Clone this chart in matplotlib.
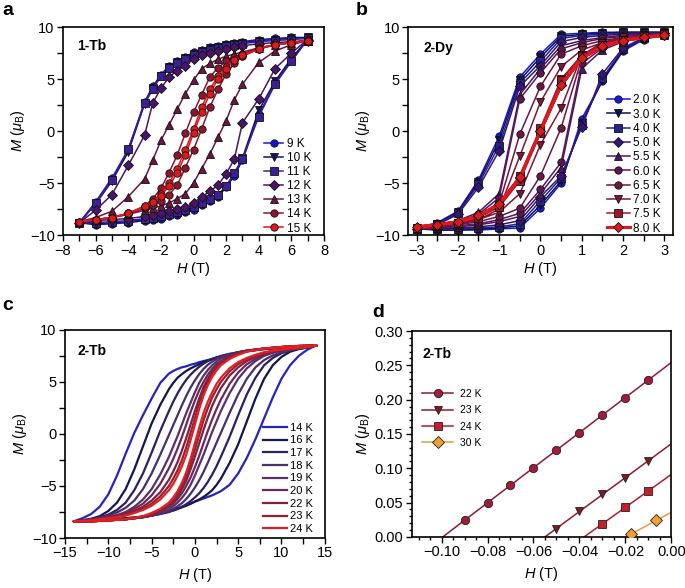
import matplotlib
matplotlib.use('Agg')
import matplotlib.pyplot as plt
import numpy as np
from matplotlib.ticker import MultipleLocator, FuncFormatter

plt.rcParams['font.family'] = ['Liberation Sans', 'DejaVu Sans']
plt.rcParams['mathtext.fontset'] = 'custom'
plt.rcParams['mathtext.rm'] = 'Liberation Sans'
plt.rcParams['mathtext.it'] = 'Liberation Sans:italic'
plt.rcParams['mathtext.bf'] = 'Liberation Sans:bold'

# ---------------- Panel a : 1-Tb ----------------
a_labels = ['9 K', '10 K', '11 K', '12 K', '13 K', '14 K', '15 K']
a_markers = ['o', 'v', 's', 'D', '^', 'o', 'o']
a_colors = ['#1515d6', '#14145e', '#3a1f96', '#4a1468', '#6b1545', '#8c1530', '#e0181c']
Ha_down = [7, 6, 5, 4, 3, 2.5, 2, 1.5, 1, 0.5, 0, -0.5, -1, -1.5, -2, -2.5, -3, -4, -5, -6, -7]
Ha_up = [-7, -6, -5, -4, -3, -2.5, -2, -1.5, -1, -0.5, 0, 0.5, 1, 1.5, 2, 2.5, 3, 4, 5, 6, 7]
a9_down = [9.0, 9.0, 8.9, 8.8, 8.6, 8.5, 8.4, 8.2, 8.1, 7.8, 7.6, 7.1, 6.7, 6.3, 5.4, 4.3, 2.8, -1.8, -4.5, -6.8, -8.8]
a9_up = [-9.0, -9.0, -8.9, -8.8, -8.6, -8.5, -8.4, -8.2, -8.1, -7.8, -7.6, -7.1, -6.7, -6.3, -5.4, -4.3, -2.8, 1.6, 4.6, 6.8, 8.8]
a10_down = [9.0, 8.9, 8.8, 8.7, 8.5, 8.4, 8.3, 8.1, 8.0, 7.7, 7.4, 7.0, 6.6, 6.2, 5.3, 4.1, 2.6, -2.0, -4.8, -7.0, -8.8]
a10_up = [-9.0, -8.9, -8.8, -8.7, -8.5, -8.4, -8.3, -8.1, -8.0, -7.7, -7.4, -7.0, -6.6, -6.2, -5.3, -4.1, -2.6, 2.0, 4.8, 7.0, 8.8]
a11_down = [8.9, 8.8, 8.7, 8.6, 8.4, 8.3, 8.2, 8.0, 7.8, 7.6, 7.3, 6.9, 6.5, 6.1, 5.3, 4.0, 2.7, -1.7, -4.7, -6.9, -8.8]
a11_up = [-8.9, -8.8, -8.7, -8.6, -8.4, -8.3, -8.2, -8.0, -7.8, -7.6, -7.3, -6.9, -6.5, -6.1, -5.3, -4.0, -2.7, 1.4, 4.5, 6.7, 8.8]
a12_down = [8.7, 8.6, 8.5, 8.4, 8.2, 8.1, 7.9, 7.7, 7.5, 7.3, 6.9, 6.3, 5.8, 5.2, 4.1, 2.7, -0.4, -3.3, -6.1, -7.6, -8.8]
a12_up = [-8.7, -8.6, -8.5, -8.4, -8.2, -8.1, -7.9, -7.7, -7.5, -7.3, -6.9, -6.3, -5.8, -5.2, -4.1, -2.7, 0.8, 3.1, 6.0, 7.5, 8.8]
a13_down = [8.7, 8.5, 8.3, 8.0, 7.6, 7.4, 7.2, 6.9, 6.5, 6.0, 4.9, 3.6, 2.1, 0.6, -0.9, -2.8, -4.6, -6.3, -7.7, -8.3, -8.7]
a13_up = [-8.7, -8.5, -8.3, -8.0, -7.6, -7.4, -7.2, -6.9, -6.5, -6.0, -5.0, -3.6, -2.2, -0.6, 1.0, 3.0, 4.5, 6.6, 7.7, 8.3, 8.7]
a14_down = [8.7, 8.5, 8.3, 8.0, 7.4, 7.1, 6.7, 6.1, 5.2, 3.5, 1.8, -0.2, -2.3, -4.0, -5.5, -6.5, -7.2, -7.9, -8.3, -8.5, -8.7]
a14_up = [-8.7, -8.5, -8.3, -8.0, -7.4, -7.1, -6.7, -6.1, -5.2, -3.5, -1.8, 0.2, 2.3, 4.0, 5.5, 6.5, 7.2, 7.9, 8.3, 8.5, 8.7]
a15_down = [8.7, 8.5, 8.3, 7.9, 7.2, 6.8, 6.2, 5.3, 4.0, 2.3, 0.2, -1.8, -3.6, -5.0, -6.0, -6.8, -7.3, -7.9, -8.3, -8.5, -8.7]
a15_up = [-8.7, -8.5, -8.3, -7.9, -7.2, -6.8, -6.2, -5.3, -4.0, -2.3, -0.2, 1.8, 3.6, 5.0, 6.0, 6.8, 7.3, 7.9, 8.3, 8.5, 8.7]
a_down = [a9_down, a10_down, a11_down, a12_down, a13_down, a14_down, a15_down]
a_up = [a9_up, a10_up, a11_up, a12_up, a13_up, a14_up, a15_up]

# ---------------- Panel b : 2-Dy ----------------
b_labels = ['2.0 K', '3.0 K', '4.0 K', '5.0 K', '5.5 K', '6.0 K', '6.5 K', '7.0 K', '7.5 K', '8.0 K']
b_markers = ['o', 'v', 's', 'D', '^', 'o', 'o', 'v', 's', 'D']
b_colors = ['#1717d9', '#0f0f55', '#25238f', '#35157a', '#4a1565', '#5d1555', '#6e1547', '#80153a', '#a0152c', '#e0181c']
Hb_down = [3, 2.5, 2, 1.5, 1, 0.5, 0, -0.5, -1, -1.5, -2, -2.5, -3]
Hb_up = [-3, -2.5, -2, -1.5, -1, -0.5, 0, 0.5, 1, 1.5, 2, 2.5, 3]
b20_down = [9.5, 9.5, 9.5, 9.5, 9.4, 9.3, 7.4, 5.2, -0.5, -4.7, -7.7, -8.8, -9.3]
b20_up = [-9.5, -9.5, -9.5, -9.5, -9.4, -9.3, -7.4, -5.0, 1.2, 4.8, 7.7, 8.8, 9.3]
b30_down = [9.5, 9.5, 9.5, 9.4, 9.3, 9.1, 7.1, 4.9, -0.9, -4.9, -7.8, -8.9, -9.4]
b30_up = [-9.5, -9.5, -9.5, -9.4, -9.3, -9.1, -7.1, -4.8, 0.8, 4.9, 7.8, 8.9, 9.4]
b40_down = [9.4, 9.4, 9.4, 9.3, 9.2, 8.9, 6.7, 4.6, -1.4, -5.1, -7.9, -8.9, -9.4]
b40_up = [-9.4, -9.4, -9.4, -9.3, -9.2, -8.9, -6.7, -4.5, 0.6, 5.1, 7.9, 8.9, 9.4]
b50_down = [9.4, 9.4, 9.3, 9.2, 9.0, 8.6, 6.3, 4.3, -1.9, -5.4, -8.0, -9.0, -9.4]
b50_up = [-9.4, -9.4, -9.3, -9.2, -9.0, -8.6, -6.3, -4.3, 0.4, 5.5, 8.0, 9.0, 9.4]
b55_down = [9.4, 9.3, 9.2, 9.0, 8.7, 8.2, 6.0, 3.5, -6.0, -7.8, -8.6, -9.1, -9.4]
b55_up = [-9.4, -9.3, -9.2, -9.0, -8.7, -8.2, -6.0, -3.5, 6.0, 7.8, 8.6, 9.1, 9.4]
b60_down = [9.3, 9.2, 9.1, 8.9, 8.5, 7.9, 5.6, 3.1, -6.4, -8.0, -8.8, -9.2, -9.4]
b60_up = [-9.3, -9.2, -9.1, -8.9, -8.5, -7.9, -5.6, -3.0, 6.5, 8.0, 8.8, 9.2, 9.4]
b65_down = [9.3, 9.2, 9.0, 8.7, 8.2, 7.4, 4.3, -0.3, -7.0, -8.3, -8.9, -9.2, -9.4]
b65_up = [-9.3, -9.2, -9.0, -8.7, -8.2, -7.4, -4.3, 0.3, 7.0, 8.3, 8.9, 9.2, 9.4]
b70_down = [9.3, 9.1, 8.9, 8.5, 7.8, 6.2, 2.8, -2.4, -7.5, -8.5, -9.0, -9.2, -9.3]
b70_up = [-9.3, -9.1, -8.9, -8.5, -7.8, -6.0, -1.3, 2.2, 7.3, 8.5, 9.0, 9.2, 9.3]
b75_down = [9.2, 9.0, 8.8, 8.3, 7.3, 5.0, 0.3, -4.3, -7.1, -8.3, -8.8, -9.1, -9.3]
b75_up = [-9.2, -9.0, -8.8, -8.3, -7.3, -4.8, -0.2, 4.9, 7.2, 8.3, 8.8, 9.1, 9.3]
b80_down = [9.2, 9.0, 8.7, 8.1, 7.0, 4.4, 0.0, -4.5, -7.0, -8.2, -8.7, -9.0, -9.2]
b80_up = [-9.2, -9.0, -8.7, -8.1, -7.0, -4.4, 0.0, 4.4, 7.0, 8.2, 8.7, 9.0, 9.2]
b_down = [b20_down, b30_down, b40_down, b50_down, b55_down, b60_down, b65_down, b70_down, b75_down, b80_down]
b_up = [b20_up, b30_up, b40_up, b50_up, b55_up, b60_up, b65_up, b70_up, b75_up, b80_up]

# ---------------- Panel c : 2-Tb loops ----------------
c_labels = ['14 K', '16 K', '17 K', '18 K', '19 K', '20 K', '22 K', '23 K', '24 K']
c_colors = ['#2424c0', '#151550', '#2c2060', '#46306e', '#5a306c', '#6a2a58', '#7e2040', '#952035', '#e41e1e']
Hc_down = [14, 12, 10, 8, 6, 5, 4, 3, 2.5, 2, 1.5, 1, 0.5, 0, -0.5, -1, -1.5, -2, -2.5, -3,
           -4, -5, -6, -7, -8, -9, -10, -11, -12, -13, -14]
Hc_up = [-14, -12, -10, -8, -6, -5, -4, -3, -2.5, -2, -1.5, -1, -0.5, 0, 0.5, 1, 1.5, 2, 2.5, 3,
         4, 5, 6, 7, 8, 9, 10, 11, 12, 13, 14]
c14_down = [8.5, 8.4, 8.3, 8.15, 7.95, 7.8, 7.6, 7.4, 7.3, 7.2, 7.1, 7.0, 6.9, 6.75, 6.65, 6.5, 6.4, 6.25, 6.05, 5.8,
            4.9, 3.4, 1.8, 0.1, -1.9, -4.0, -5.8, -7.0, -7.7, -8.1, -8.4]
c14_up = [-8.4, -8.35, -8.25, -8.1, -7.95, -7.8, -7.6, -7.4, -7.3, -7.15, -7.0, -6.85, -6.7, -6.5, -6.35, -6.2, -6.05, -5.9, -5.7, -5.5,
          -4.9, -3.8, -2.3, -0.5, 1.5, 3.5, 5.3, 6.6, 7.5, 8.1, 8.5]
c16_down = [8.5, 8.4, 8.3, 8.15, 7.95, 7.8, 7.65, 7.45, 7.35, 7.2, 7.05, 6.9, 6.7, 6.5, 6.3, 6.05, 5.75, 5.4, 4.9, 4.3,
            2.8, 1.0, -1.2, -3.4, -5.3, -6.6, -7.4, -7.9, -8.15, -8.3, -8.4]
c16_up = [-8.4, -8.35, -8.25, -8.1, -7.95, -7.8, -7.65, -7.45, -7.35, -7.2, -7.05, -6.9, -6.7, -6.5, -6.3, -6.05, -5.75, -5.4, -4.9, -4.3,
          -2.8, -1.0, 1.2, 3.4, 5.3, 6.6, 7.4, 7.9, 8.15, 8.3, 8.5]
c17_down = [8.5, 8.4, 8.3, 8.2, 8.0, 7.85, 7.7, 7.5, 7.35, 7.2, 7.0, 6.75, 6.45, 6.1, 5.7, 5.2, 4.6, 3.9, 3.1, 2.2,
            0.3, -1.8, -3.8, -5.4, -6.6, -7.3, -7.75, -8.0, -8.2, -8.3, -8.4]
c17_up = [-8.4, -8.35, -8.3, -8.2, -8.0, -7.85, -7.7, -7.5, -7.35, -7.2, -7.0, -6.75, -6.45, -6.1, -5.7, -5.2, -4.6, -3.9, -3.1, -2.2,
          -0.3, 1.8, 3.8, 5.4, 6.6, 7.3, 7.75, 8.0, 8.2, 8.3, 8.5]
c18_down = [8.5, 8.45, 8.35, 8.2, 8.0, 7.85, 7.65, 7.4, 7.2, 6.95, 6.65, 6.25, 5.75, 5.15, 4.45, 3.65, 2.75, 1.8, 0.85, -0.1,
            -2.0, -3.8, -5.3, -6.4, -7.1, -7.55, -7.85, -8.05, -8.2, -8.3, -8.4]
c18_up = [-8.4, -8.4, -8.3, -8.2, -8.0, -7.85, -7.65, -7.4, -7.2, -6.95, -6.65, -6.25, -5.75, -5.15, -4.45, -3.65, -2.75, -1.8, -0.85, 0.1,
          2.0, 3.8, 5.3, 6.4, 7.1, 7.55, 7.85, 8.05, 8.2, 8.3, 8.5]
c19_down = [8.5, 8.45, 8.35, 8.2, 8.0, 7.85, 7.6, 7.25, 6.95, 6.6, 6.15, 5.6, 4.9, 4.0, 3.0, 2.0, 0.9, -0.2, -1.2, -2.2,
            -3.9, -5.3, -6.3, -7.0, -7.5, -7.8, -8.0, -8.15, -8.25, -8.35, -8.4]
c19_up = [-8.4, -8.4, -8.3, -8.2, -8.0, -7.85, -7.6, -7.25, -6.95, -6.6, -6.15, -5.6, -4.9, -4.0, -3.0, -2.0, -0.9, 0.2, 1.2, 2.2,
          3.9, 5.3, 6.3, 7.0, 7.5, 7.8, 8.0, 8.15, 8.25, 8.35, 8.5]
c20_down = [8.5, 8.45, 8.35, 8.2, 8.0, 7.8, 7.5, 7.0, 6.7, 6.25, 5.7, 5.0, 4.2, 3.2, 2.1, 0.9, -0.3, -1.4, -2.4, -3.3,
            -4.8, -5.9, -6.7, -7.2, -7.6, -7.85, -8.0, -8.15, -8.25, -8.35, -8.4]
c20_up = [-8.4, -8.4, -8.3, -8.2, -8.0, -7.8, -7.5, -7.0, -6.7, -6.25, -5.7, -5.0, -4.2, -3.2, -2.1, -0.9, 0.3, 1.4, 2.4, 3.3,
          4.8, 5.9, 6.7, 7.2, 7.6, 7.85, 8.0, 8.15, 8.25, 8.35, 8.5]
c22_down = [8.5, 8.45, 8.35, 8.2, 7.95, 7.75, 7.4, 6.9, 6.5, 6.0, 5.3, 4.5, 3.4, 2.2, 0.9, -0.4, -1.6, -2.7, -3.6, -4.4,
            -5.6, -6.4, -7.0, -7.4, -7.7, -7.9, -8.05, -8.15, -8.25, -8.35, -8.4]
c22_up = [-8.4, -8.4, -8.3, -8.2, -7.95, -7.75, -7.4, -6.9, -6.5, -6.0, -5.3, -4.5, -3.4, -2.2, -0.9, 0.4, 1.6, 2.7, 3.6, 4.4,
          5.6, 6.4, 7.0, 7.4, 7.7, 7.9, 8.05, 8.15, 8.25, 8.35, 8.5]
c23_down = [8.5, 8.45, 8.35, 8.2, 7.95, 7.7, 7.3, 6.8, 6.4, 5.8, 5.0, 4.1, 2.9, 1.5, 0.1, -1.3, -2.5, -3.5, -4.3, -5.0,
            -6.0, -6.7, -7.2, -7.5, -7.8, -7.95, -8.1, -8.2, -8.3, -8.35, -8.4]
c23_up = [-8.4, -8.4, -8.3, -8.2, -7.95, -7.7, -7.3, -6.8, -6.4, -5.8, -5.0, -4.1, -2.9, -1.5, -0.1, 1.3, 2.5, 3.5, 4.3, 5.0,
          6.0, 6.7, 7.2, 7.5, 7.8, 7.95, 8.1, 8.2, 8.3, 8.35, 8.5]
c24_down = [8.5, 8.45, 8.35, 8.2, 7.9, 7.6, 7.2, 6.6, 6.1, 5.5, 4.7, 3.7, 2.4, 0.9, -0.6, -2.0, -3.1, -4.0, -4.8, -5.4,
            -6.3, -6.9, -7.3, -7.6, -7.85, -8.0, -8.1, -8.2, -8.3, -8.35, -8.4]
c24_up = [-8.4, -8.4, -8.3, -8.2, -7.9, -7.6, -7.2, -6.6, -6.1, -5.5, -4.7, -3.7, -2.4, -0.9, 0.6, 2.0, 3.1, 4.0, 4.8, 5.4,
          6.3, 6.9, 7.3, 7.6, 7.85, 8.0, 8.1, 8.2, 8.3, 8.35, 8.5]
c_down = [c14_down, c16_down, c17_down, c18_down, c19_down, c20_down, c22_down, c23_down, c24_down]
c_up = [c14_up, c16_up, c17_up, c18_up, c19_up, c20_up, c22_up, c23_up, c24_up]

# ---------------- Panel d : 2-Tb low field ----------------
d_labels = ['22 K', '23 K', '24 K', '30 K']
d_markers = ['o', 'v', 's', 'D']
d_face = ['#a01c3c', '#7d1a22', '#c41e2c', '#f0a030']
d_line = ['#8e1a34', '#8e1a2a', '#b01e2c', '#e0a040']
d22_H = [-0.09, -0.08, -0.07, -0.06, -0.05, -0.04, -0.03, -0.02, -0.01]
d22_M = [0.024, 0.050, 0.075, 0.101, 0.126, 0.152, 0.177, 0.203, 0.229]
d23_H = [-0.05, -0.04, -0.03, -0.02, -0.01]
d23_M = [0.012, 0.037, 0.062, 0.086, 0.111]
d24_H = [-0.03, -0.02, -0.01]
d24_M = [0.019, 0.043, 0.067]
d30_H = [-0.0175, -0.0065]
d30_M = [0.004, 0.024]
d_H = [d22_H, d23_H, d24_H, d30_H]
d_M = [d22_M, d23_M, d24_M, d30_M]

# ---------------- figure ----------------
fig = plt.figure(figsize=(6.85, 5.88), dpi=100)
axa = fig.add_axes([0.092, 0.600, 0.381, 0.354])
axb = fig.add_axes([0.596, 0.600, 0.386, 0.354])
axc = fig.add_axes([0.095, 0.085, 0.379, 0.354])
axd = fig.add_axes([0.601, 0.087, 0.379, 0.350])

TICK_FS = 10.5
LAB_FS = 10.5
LEG_FS = 8.5
umin = FuncFormatter(lambda v, p: ('%g' % v).replace('-', '\u2212'))


def style(ax, major=4, minor=4, xpad=2.5):
    for s in ax.spines.values():
        s.set_linewidth(1.2)
    ax.tick_params(which='both', direction='out', top=False, right=False,
                   labelsize=TICK_FS, width=1.0, pad=2)
    ax.tick_params(which='major', length=major)
    ax.tick_params(which='minor', length=minor)
    ax.set_xlabel(r'$H$ (T)', fontsize=LAB_FS, labelpad=xpad)
    ax.set_ylabel(r'$M$ ($\mu_{\rm B}$)', fontsize=LAB_FS, labelpad=2)


# panel a
for lab, mk, col, yd, yu in zip(a_labels, a_markers, a_colors, a_down, a_up):
    xs = list(Ha_down) + list(Ha_up[1:])
    ys = list(yd) + list(yu[1:])
    axa.plot(xs, ys, '-', color=col, lw=1.1, marker=mk, ms=5.3, mfc=col,
             mec='#111111', mew=0.6, label=lab)
axa.set_xlim(-8, 8)
axa.set_ylim(-10, 10)
axa.xaxis.set_major_locator(MultipleLocator(2))
axa.xaxis.set_minor_locator(MultipleLocator(1))
axa.yaxis.set_major_locator(MultipleLocator(5))
axa.yaxis.set_minor_locator(MultipleLocator(2.5))
axa.xaxis.set_major_formatter(umin)
axa.yaxis.set_major_formatter(umin)
style(axa, xpad=2)
axa.text(0.054, 0.889, '1-Tb', transform=axa.transAxes, fontsize=10, fontweight='bold')
axa.legend(loc='lower right', bbox_to_anchor=(0.975, -0.025), frameon=False, fontsize=LEG_FS,
           handlelength=1.6, handletextpad=0.35, labelspacing=0.18, borderpad=0)

# panel b
for i, (lab, mk, col, yd, yu) in enumerate(zip(b_labels, b_markers, b_colors, b_down, b_up)):
    xs = list(Hb_down) + list(Hb_up[1:])
    ys = list(yd) + list(yu[1:])
    lw = 2.2 if i == 9 else 1.1
    axb.plot(xs, ys, '-', color=col, lw=lw, marker=mk, ms=5.3, mfc=col,
             mec='#111111', mew=0.6, label=lab)
axb.set_xlim(-3.2, 3.2)
axb.set_ylim(-10, 10)
axb.xaxis.set_major_locator(MultipleLocator(1))
axb.xaxis.set_minor_locator(MultipleLocator(0.5))
axb.yaxis.set_major_locator(MultipleLocator(5))
axb.yaxis.set_minor_locator(MultipleLocator(2.5))
axb.xaxis.set_major_formatter(umin)
axb.yaxis.set_major_formatter(umin)
style(axb, xpad=2)
axb.text(0.057, 0.88, '2-Dy', transform=axb.transAxes, fontsize=10, fontweight='bold')
axb.legend(loc='lower right', bbox_to_anchor=(0.975, -0.025), frameon=False, fontsize=LEG_FS,
           handlelength=1.9, handletextpad=0.25, labelspacing=0.19, borderpad=0)

# panel c
for lab, col, yd, yu in zip(c_labels, c_colors, c_down, c_up):
    xs = list(Hc_down) + list(Hc_up[1:])
    ys = list(yd) + list(yu[1:])
    axc.plot(xs, ys, '-', color=col, lw=1.6, label=lab, solid_joinstyle='round')
axc.set_xlim(-15, 15)
axc.set_ylim(-10, 10)
axc.xaxis.set_major_locator(MultipleLocator(5))
axc.xaxis.set_minor_locator(MultipleLocator(2.5))
axc.yaxis.set_major_locator(MultipleLocator(5))
axc.yaxis.set_minor_locator(MultipleLocator(2.5))
axc.xaxis.set_major_formatter(umin)
axc.yaxis.set_major_formatter(umin)
style(axc, xpad=4)
axc.text(0.046, 0.88, '2-Tb', transform=axc.transAxes, fontsize=10, fontweight='bold')
axc.legend(loc='lower right', bbox_to_anchor=(0.975, -0.008), frameon=False, fontsize=8,
           handlelength=2.2, handletextpad=0.2, labelspacing=0.24, borderpad=0)

# panel d
xfit = np.array([-0.113, 0.0])
for lab, mk, fc, lc, hh, mm in zip(d_labels, d_markers, d_face, d_line, d_H, d_M):
    p = np.polyfit(hh, mm, 1)
    axd.plot(xfit, np.polyval(p, xfit), '-', color=lc, lw=1.1, zorder=2)
    axd.plot(hh, mm, linestyle='none', marker=mk, ms=6, mfc=fc, mec='#222222', mew=0.6, zorder=3)
    axd.plot([], [], '-', color=lc, lw=1.1, marker=mk, ms=6, mfc=fc, mec='#222222', mew=0.6, label=lab)
axd.set_xlim(-0.113, 0.0)
axd.set_ylim(0.0, 0.30)
axd.xaxis.set_major_locator(MultipleLocator(0.02))
axd.xaxis.set_minor_locator(MultipleLocator(0.005))
axd.yaxis.set_major_locator(MultipleLocator(0.05))
axd.yaxis.set_minor_locator(MultipleLocator(0.01))
fmt2 = FuncFormatter(lambda v, p: ('%.2f' % (0.0 if abs(v) < 1e-9 else v)).replace('-', '\u2212'))
axd.xaxis.set_major_formatter(fmt2)
axd.yaxis.set_major_formatter(fmt2)
style(axd, major=4, minor=2.5, xpad=4)
axd.text(0.042, 0.869, '2-Tb', transform=axd.transAxes, fontsize=10, fontweight='bold')
axd.legend(loc='upper left', bbox_to_anchor=(0.02, 0.745), frameon=False, fontsize=7.5,
           handlelength=3.0, handletextpad=0.6, labelspacing=0.62, borderpad=0)

# panel letters
for x, y, t in [(0.003, 0.975, 'a'), (0.519, 0.975, 'b'), (0.003, 0.473, 'c'), (0.543, 0.461, 'd')]:
    fig.text(x, y, t, fontsize=14, fontweight='bold', ha='left', va='baseline')

fig.savefig('out.png', dpi=100)
